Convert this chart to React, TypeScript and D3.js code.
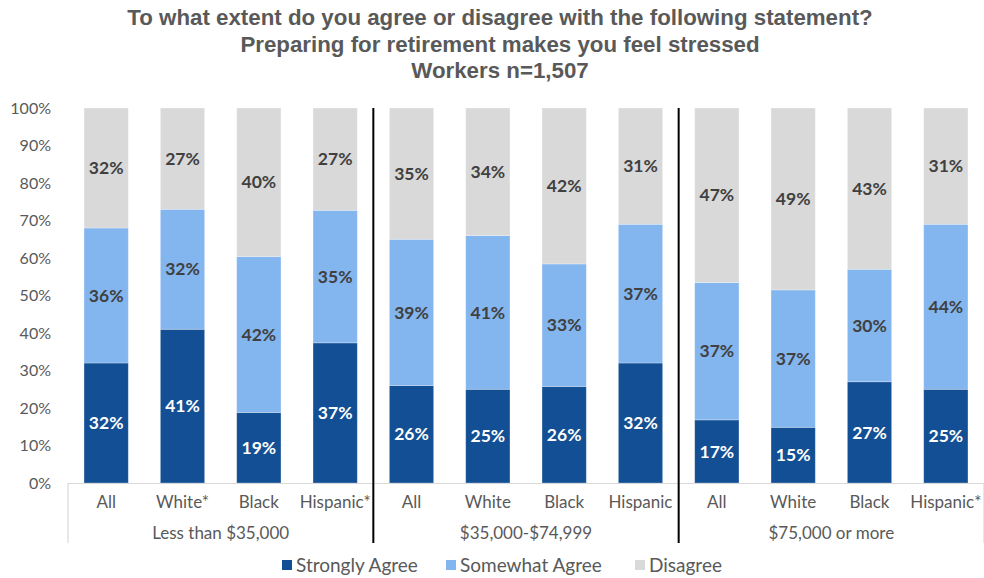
import { useEffect, useRef } from "react";
import * as d3 from "d3";

const titleLines = [
  "To what extent do you agree or disagree with the following statement?",
  "Preparing for retirement makes you feel stressed",
  "Workers n=1,507",
];
const groups = ["Less than $35,000", "$35,000-$74,999", "$75,000 or more"];
const categories = [
  ["All", "White*", "Black", "Hispanic*"],
  ["All", "White", "Black", "Hispanic"],
  ["All", "White", "Black", "Hispanic*"],
];
const seriesNames = ["Strongly Agree", "Somewhat Agree", "Disagree"];
const stronglyAgree = [32, 41, 19, 37, 26, 25, 26, 32, 17, 15, 27, 25];
const somewhatAgree = [36, 32, 42, 35, 39, 41, 33, 37, 37, 37, 30, 44];
const disagree = [32, 27, 40, 27, 35, 34, 42, 31, 47, 49, 43, 31];
const yTicks = [0, 0.1, 0.2, 0.3, 0.4, 0.5, 0.6, 0.7, 0.8, 0.9, 1];

const colors = ["#124f94", "#83b5ef", "#d9d9d9"];
const labelColors = ["#ffffff", "#404040", "#404040"];
const FONT = "'Century Gothic', 'URW Gothic', Lato, 'DejaVu Sans', sans-serif";

export default function App() {
  const ref = useRef<SVGSVGElement>(null);

  useEffect(() => {
    if (!ref.current) return;
    const svg = d3.select(ref.current);
    svg.selectAll("*").remove();

    const left = 68;
    const right = 984;
    const top = 108;
    const bottom = 483;

    const rows = stronglyAgree.map((_, i) => ({
      i,
      s: stronglyAgree[i],
      m: somewhatAgree[i],
      d: disagree[i],
    }));

    const x = d3
      .scaleBand<number>()
      .domain(rows.map((r) => r.i))
      .range([left, right])
      .paddingInner(0.42)
      .paddingOuter(0.21);
    const y = d3.scaleLinear().domain([0, 1]).range([bottom, top]);

    const keys = ["s", "m", "d"];
    const stack = d3
      .stack<{ i: number; s: number; m: number; d: number }>()
      .keys(keys)
      .offset(d3.stackOffsetExpand);
    const layers = stack(rows);

    // title
    svg
      .append("g")
      .selectAll("text")
      .data(titleLines)
      .join("text")
      .attr("x", 500)
      .attr("y", (_, i) => 25 + i * 26.5)
      .attr("text-anchor", "middle")
      .attr("font-family", "'Liberation Sans', Arial, sans-serif")
      .attr("font-weight", "bold")
      .attr("font-size", "22.3px")
      .attr("fill", "#595959")
      .text((d) => d);

    // y axis labels
    svg
      .append("g")
      .selectAll("text")
      .data(yTicks)
      .join("text")
      .attr("x", 51)
      .attr("y", (d) => y(d))
      .attr("dy", "0.35em")
      .attr("text-anchor", "end")
      .attr("font-family", FONT)
      .attr("font-size", "16px")
      .attr("fill", "#595959")
      .text((d) => d3.format(".0%")(d));

    // bars
    layers.forEach((layer, k) => {
      svg
        .append("g")
        .selectAll("rect")
        .data(layer)
        .join("rect")
        .attr("x", (d) => x(d.data.i) ?? 0)
        .attr("y", (d) => y(d[1]))
        .attr("width", x.bandwidth())
        .attr("height", (d) => y(d[0]) - y(d[1]))
        .attr("fill", colors[k])
        .attr("stroke", "#ffffff")
        .attr("stroke-opacity", 0.35)
        .attr("stroke-width", 0.8);

      svg
        .append("g")
        .selectAll("text")
        .data(layer)
        .join("text")
        .attr("x", (d) => (x(d.data.i) ?? 0) + x.bandwidth() / 2)
        .attr("y", (d) => y((d[0] + d[1]) / 2))
        .attr("dy", "0.35em")
        .attr("text-anchor", "middle")
        .attr("font-family", FONT)
        .attr("font-weight", "bold")
        .attr("font-size", "17.5px")
        .attr("fill", labelColors[k])
        .text((d) => `${(d.data as any)[keys[k]]}%`);
    });

    // x axis line
    const step = x.step();
    svg
      .append("line")
      .attr("x1", left)
      .attr("x2", right)
      .attr("y1", bottom + 0.5)
      .attr("y2", bottom + 0.5)
      .attr("stroke", "#d9d9d9")
      .attr("stroke-width", 1.2);

    const bounds = d3.range(groups.length + 1).map((g) => left + g * 4 * step);
    svg
      .append("g")
      .selectAll("line")
      .data(bounds)
      .join("line")
      .attr("x1", (d) => d)
      .attr("x2", (d) => d)
      .attr("y1", bottom)
      .attr("y2", 543)
      .attr("stroke", "#d9d9d9")
      .attr("stroke-width", 1.2);

    // group dividers
    svg
      .append("g")
      .selectAll("line")
      .data(bounds.slice(1, -1))
      .join("line")
      .attr("x1", (d) => d)
      .attr("x2", (d) => d)
      .attr("y1", top)
      .attr("y2", 543)
      .attr("stroke", "#000000")
      .attr("stroke-width", 2);

    // category labels
    svg
      .append("g")
      .selectAll("text")
      .data(categories.flat())
      .join("text")
      .attr("x", (_, i) => (x(i) ?? 0) + x.bandwidth() / 2)
      .attr("y", 502)
      .attr("dy", "0.35em")
      .attr("text-anchor", "middle")
      .attr("font-family", FONT)
      .attr("font-size", "17px")
      .attr("fill", "#595959")
      .text((d) => d);

    svg
      .append("g")
      .selectAll("text")
      .data(groups)
      .join("text")
      .attr("x", (_, g) => left + (g * 4 + 2) * step)
      .attr("y", 533)
      .attr("dy", "0.35em")
      .attr("text-anchor", "middle")
      .attr("font-family", FONT)
      .attr("font-size", "17px")
      .attr("fill", "#595959")
      .text((d) => d);

    // legend
    const legendX = [282, 446, 635];
    const lg = svg
      .append("g")
      .selectAll("g")
      .data(seriesNames)
      .join("g")
      .attr("transform", (_, i) => `translate(${legendX[i]},565)`);
    lg.append("rect")
      .attr("x", 0)
      .attr("y", -5)
      .attr("width", 10)
      .attr("height", 10)
      .attr("fill", (_, i) => colors[i]);
    lg.append("text")
      .attr("x", 14)
      .attr("y", 0)
      .attr("dy", "0.35em")
      .attr("font-family", FONT)
      .attr("font-size", "19px")
      .attr("fill", "#595959")
      .text((d) => d);
  }, []);

  return (
    <svg
      ref={ref}
      width={984}
      height={578}
      style={{ position: "absolute", left: 0, top: 0, background: "#fff" }}
    />
  );
}
